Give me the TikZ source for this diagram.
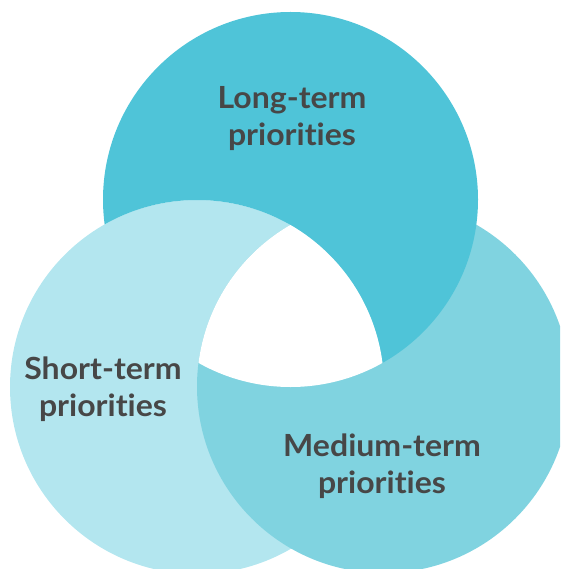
\documentclass[tikz,border=0pt]{standalone}
\usepackage{fontspec}
\setmainfont{Lato}[Ligatures=NoCommon, FakeStretch=1.05]
\usepackage{tikz}
\definecolor{longc}{HTML}{4FC4D8}
\definecolor{mediumc}{HTML}{80D3E0}
\definecolor{shortc}{HTML}{B3E6EF}
\definecolor{labelc}{HTML}{474747}

\begin{document}
\begin{tikzpicture}[x=1pt,y=-1pt]
\tikzstyle{every node}+=[inner sep=0pt, align=center, text=labelc, font=\fontsize{30.5}{37}\selectfont\bfseries]
\useasboundingbox (0,0) rectangle (560,569);
\clip (0,0) rectangle (560,569);
\fill [shortc] (197,387) circle (187);
\fill [mediumc] (383.5,386.5) circle (186.5);
\begin{scope}[even odd rule]
\clip (0,0) rectangle (560,569) (197,387) circle (187);
\fill [longc] (290.5,199.5) circle (187.5);
\end{scope}
\begin{scope}
\clip (290.5,199.5) circle (187.5);
\clip (197,387) circle (187);
\fill [white] (383.5,386.5) circle (186.5);
\end{scope}
\node (long) at (292,119) {Long-term\\priorities};
\node (short) at (103,389) {Short-term\\priorities};
\node (medium) at (382,466.5) {Medium-term\\priorities};
\end{tikzpicture}
\end{document}
